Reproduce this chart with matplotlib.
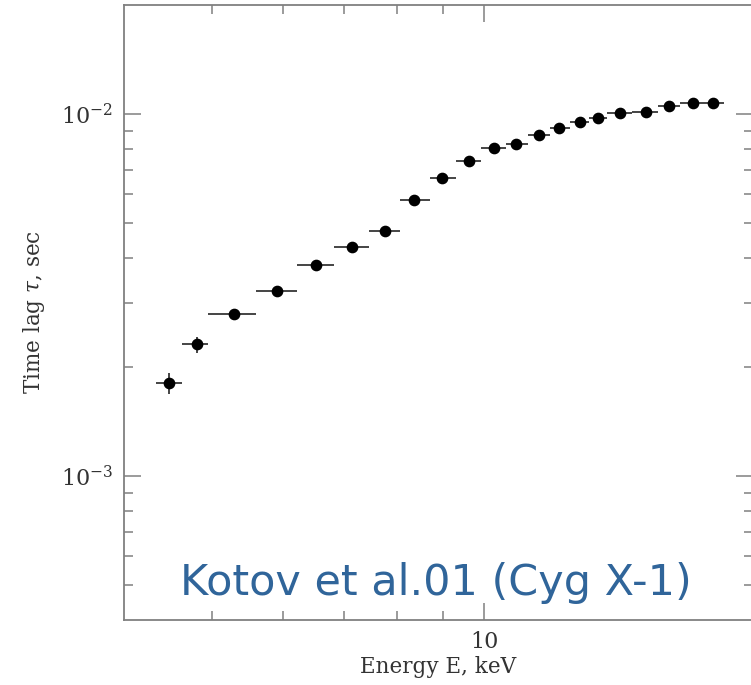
import matplotlib
matplotlib.use("Agg")
import matplotlib.pyplot as plt
from matplotlib.ticker import FixedLocator, NullFormatter

# energy bins (keV): centres and bin edges
energy = [4.49, 4.81, 5.29, 5.905, 6.52, 7.14, 7.76, 8.37, 8.99, 9.62, 10.24,
          10.85, 11.49, 12.08, 12.74, 13.35, 14.13, 15.08, 15.99, 16.98, 17.87]
energy_lo = [4.335, 4.638, 4.953, 5.595, 6.214, 6.826, 7.459, 8.07, 8.70, 9.31, 9.92,
             10.57, 11.18, 11.82, 12.42, 13.06, 13.66, 14.57, 15.57, 16.46, 17.46]
energy_hi = [4.638, 4.953, 5.595, 6.214, 6.826, 7.459, 8.07, 8.70, 9.31, 9.92, 10.57,
             11.18, 11.82, 12.42, 13.06, 13.66, 14.57, 15.57, 16.46, 17.46, 18.40]

# time lag (s) with lower / upper error limits
tau = [1.801e-3, 2.312e-3, 2.802e-3, 3.236e-3, 3.824e-3, 4.286e-3, 4.743e-3,
       5.793e-3, 6.661e-3, 7.40e-3, 8.04e-3, 8.28e-3, 8.75e-3, 9.15e-3, 9.48e-3,
       9.75e-3, 1.004e-2, 1.010e-2, 1.054e-2, 1.072e-2, 1.072e-2]
tau_lo = [1.683e-3, 2.193e-3, 2.76e-3, 3.20e-3, 3.79e-3, 4.25e-3, 4.71e-3,
          5.76e-3, 6.63e-3, 7.37e-3, 8.01e-3, 8.25e-3, 8.72e-3, 9.12e-3, 9.45e-3,
          9.72e-3, 1.001e-2, 1.007e-2, 1.051e-2, 1.069e-2, 1.069e-2]
tau_hi = [1.919e-3, 2.422e-3, 2.84e-3, 3.27e-3, 3.86e-3, 4.32e-3, 4.78e-3,
          5.83e-3, 6.69e-3, 7.43e-3, 8.07e-3, 8.31e-3, 8.78e-3, 9.18e-3, 9.51e-3,
          9.78e-3, 1.007e-2, 1.013e-2, 1.057e-2, 1.075e-2, 1.075e-2]

x_major = [10]
x_minor = [5, 6, 7, 8, 9]
y_major = [1e-3, 1e-2]
y_minor = [5e-4, 6e-4, 7e-4, 8e-4, 9e-4,
           2e-3, 3e-3, 4e-3, 5e-3, 6e-3, 7e-3, 8e-3, 9e-3]

xerr = [[e - lo for e, lo in zip(energy, energy_lo)],
        [hi - e for e, hi in zip(energy, energy_hi)]]
yerr = [[t - lo for t, lo in zip(tau, tau_lo)],
        [hi - t for t, hi in zip(tau, tau_hi)]]

frame = "#808080"
ink = "#333333"
plt.rcParams["mathtext.fontset"] = "dejavuserif"

fig = plt.figure(figsize=(7.51, 6.85), dpi=100)
ax = fig.add_axes([124 / 751, 65 / 685, 629 / 751, 615 / 685])

ax.errorbar(energy, tau, xerr=xerr, yerr=yerr, fmt="o", color="black",
            ecolor="#444444", elinewidth=1.4, capsize=0, markersize=7.4)

ax.set_xscale("log")
ax.set_yscale("log")
ax.set_xlim(4.0, 19.8)
ax.set_ylim(4e-4, 2e-2)

ax.xaxis.set_major_locator(FixedLocator(x_major))
ax.xaxis.set_minor_locator(FixedLocator(x_minor))
ax.xaxis.set_minor_formatter(NullFormatter())
ax.set_xticklabels(["10"])
ax.yaxis.set_major_locator(FixedLocator(y_major))
ax.yaxis.set_minor_locator(FixedLocator(y_minor))
ax.yaxis.set_minor_formatter(NullFormatter())
ax.set_yticklabels([r"$10^{-3}$", r"$10^{-2}$"])

for side in ax.spines.values():
    side.set_color(frame)
    side.set_linewidth(1.3)

ax.tick_params(which="both", direction="in", top=True, right=True,
               color=frame, width=1.1, labelcolor=ink)
ax.tick_params(which="major", length=12.5, labelsize=16, pad=8)
ax.tick_params(which="minor", length=6.5)
for lab in ax.get_xticklabels() + ax.get_yticklabels():
    lab.set_family("DejaVu Serif")

ax.set_xlabel("Energy E, keV", family="DejaVu Serif", fontsize=15.5,
              color=ink, labelpad=2)
ax.set_ylabel(r"Time lag $\tau$, sec", family="DejaVu Serif", fontsize=15.5,
              color=ink, labelpad=10)

ax.text(0.0895, 0.04, "Kotov et al.01 (Cyg X-1)", transform=ax.transAxes,
        family="DejaVu Sans", fontsize=31, color="#30659A", va="baseline")

fig.savefig("out.png", dpi=100)
